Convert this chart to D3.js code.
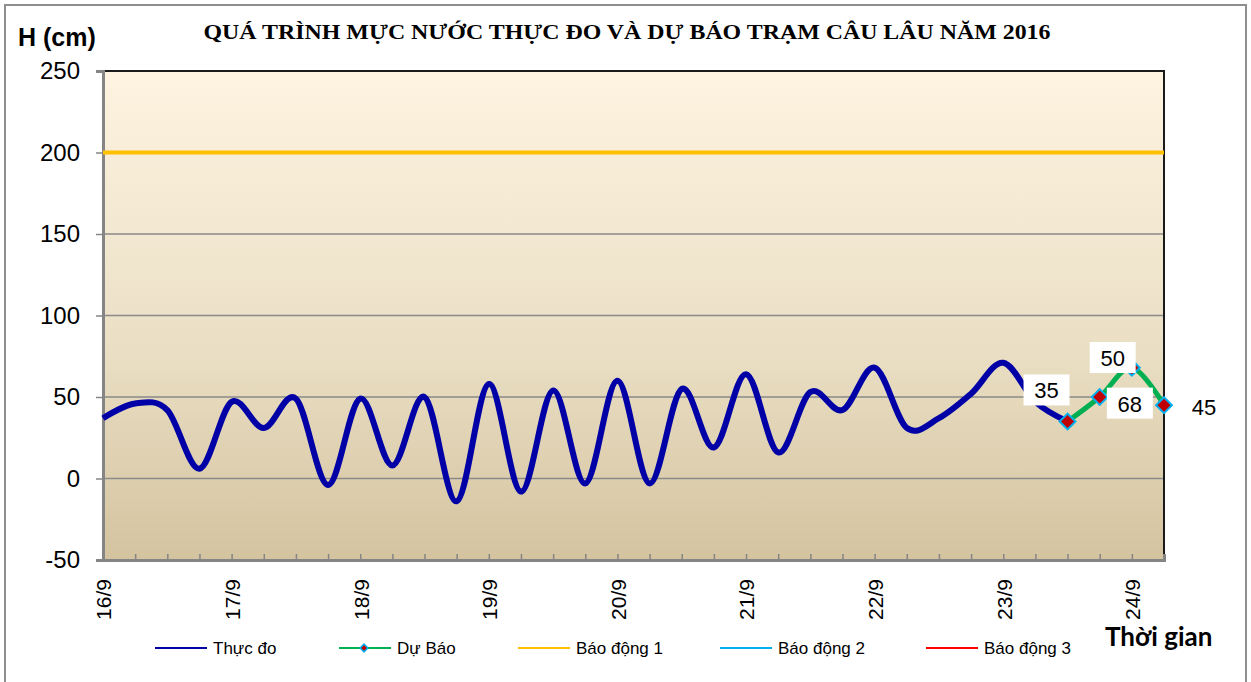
<!DOCTYPE html>
<html>
<head>
<meta charset="utf-8">
<script src="https://cdn.jsdelivr.net/npm/d3@7"></script>
<style>
  body { margin: 0; background: #fff; }
  svg { display: block; }
</style>
</head>
<body>
<div id="chart"></div>
<script>
// ---- data (hours counted from 16/9 00h) ----
const dayLabels = ["16/9", "17/9", "18/9", "19/9", "20/9", "21/9", "22/9", "23/9", "24/9"];
const observedHours = [0, 6, 12, 18, 24, 30, 36, 42, 48, 54, 60, 66, 72, 78, 84, 90,
  96, 102, 108, 114, 120, 126, 132, 138, 144, 150, 156, 162, 168, 174, 180];
const observedValues = [37, 46, 42, 6, 47, 31, 49, -4, 49, 8, 50, -14, 58, -8, 54, -3,
  60, -3, 55, 19, 64, 16, 53, 42, 68, 31, 37, 52, 71, 47, 35];
const forecastHours = [180, 186, 192, 198];
const forecastValues = [35, 50, 68, 45];
const alarm1 = 200;
const yTicks = [-50, 0, 50, 100, 150, 200, 250];
const legendNames = ["Thực đo", "Dự Báo", "Báo động 1", "Báo động 2", "Báo động 3"];

const width = 1251, height = 682;
const plot = { left: 103, right: 1164, top: 71, bottom: 560 };
const sans = "Arial, 'Liberation Sans', sans-serif";

const svg = d3.select("#chart").append("svg")
  .attr("width", width)
  .attr("height", height);

// gradient for plot area
const grad = svg.append("defs").append("linearGradient")
  .attr("id", "bg").attr("x1", 0).attr("y1", 0).attr("x2", 0).attr("y2", 1);
grad.append("stop").attr("offset", "0%").attr("stop-color", "#fef3e0");
grad.append("stop").attr("offset", "55%").attr("stop-color", "#ebe0c6");
grad.append("stop").attr("offset", "100%").attr("stop-color", "#d4c39f");

// outer frame
svg.append("rect")
  .attr("x", 5).attr("y", 5)
  .attr("width", 1241).attr("height", 700)
  .attr("fill", "none")
  .attr("stroke", "#8f8f8f")
  .attr("stroke-width", 2);

const x = d3.scaleLinear().domain([0, 198]).range([plot.left, plot.right]);
const y = d3.scaleLinear().domain([-50, 250]).range([plot.bottom, plot.top]);

svg.append("rect")
  .attr("x", plot.left).attr("y", plot.top)
  .attr("width", plot.right - plot.left)
  .attr("height", plot.bottom - plot.top)
  .attr("fill", "url(#bg)");

// gridlines
svg.append("g")
  .selectAll("line")
  .data(yTicks.filter(d => d > -50 && d < 250))
  .enter()
  .append("line")
  .attr("x1", plot.left).attr("x2", plot.right)
  .attr("y1", d => y(d)).attr("y2", d => y(d))
  .attr("stroke", "#8a8a8a")
  .attr("stroke-width", 1.5);

// plot border top / right
svg.append("path")
  .attr("d", `M${plot.left},${plot.top}H${plot.right}V${plot.bottom}`)
  .attr("fill", "none")
  .attr("stroke", "#1a1a1a")
  .attr("stroke-width", 2);

// y axis
const yAxis = svg.append("g")
  .attr("transform", `translate(${plot.left},0)`)
  .call(d3.axisLeft(y).tickValues(yTicks).tickSize(7).tickPadding(16).tickFormat(d => String(d)));
yAxis.select(".domain").attr("stroke", "#858585").attr("stroke-width", 3);
yAxis.selectAll(".tick line").attr("stroke", "#858585").attr("stroke-width", 1.5);
yAxis.selectAll("text")
  .style("font-family", sans)
  .style("font-size", "24px")
  .attr("fill", "#000");

// x axis: ticks every 6 hours, labels every day
const xAxis = svg.append("g")
  .attr("transform", `translate(0,${plot.bottom})`)
  .call(d3.axisBottom(x).tickValues(d3.range(0, 199, 6)).tickSize(-6).tickFormat(""));
xAxis.select(".domain").attr("stroke", "#858585").attr("stroke-width", 3);
xAxis.selectAll(".tick line").attr("stroke", "#858585").attr("stroke-width", 1.5);

svg.append("g")
  .selectAll("text")
  .data(dayLabels)
  .enter()
  .append("text")
  .attr("transform", (d, i) => `translate(${x(i * 24) + 1},579) rotate(-90)`)
  .attr("text-anchor", "end")
  .attr("dy", "0.35em")
  .style("font-family", sans)
  .style("font-size", "21px")
  .text(d => d);

// alarm level 1
svg.append("line")
  .attr("x1", x(0)).attr("x2", x(198))
  .attr("y1", y(alarm1)).attr("y2", y(alarm1))
  .attr("stroke", "#ffc000")
  .attr("stroke-width", 4);

// observed line
const observed = observedHours.map((h, i) => ({ h, v: observedValues[i] }));
const forecast = forecastHours.map((h, i) => ({ h, v: forecastValues[i] }));

const line = d3.line()
  .x(d => x(d.h))
  .y(d => y(d.v))
  .curve(d3.curveCardinal.tension(0));

svg.append("path")
  .datum(observed)
  .attr("d", line)
  .attr("fill", "none")
  .attr("stroke", "#0000a6")
  .attr("stroke-width", 6)
  .attr("stroke-linejoin", "round");

svg.append("path")
  .datum(forecast)
  .attr("d", line)
  .attr("fill", "none")
  .attr("stroke", "#00b050")
  .attr("stroke-width", 5);

svg.append("g")
  .selectAll("path")
  .data(forecast)
  .enter()
  .append("path")
  .attr("transform", d => `translate(${x(d.h)},${y(d.v)}) rotate(45)`)
  .attr("d", d3.symbol().type(d3.symbolSquare).size(125))
  .attr("fill", "#c00000")
  .attr("stroke", "#00b0f0")
  .attr("stroke-width", 2);

// forecast value labels
const labelOffsets = [[-21, -31], [13, -39], [-2, 36], [40, 2]];
const labels = svg.append("g")
  .selectAll("g")
  .data(forecast)
  .enter()
  .append("g")
  .attr("transform", (d, i) => `translate(${x(d.h) + labelOffsets[i][0]},${y(d.v) + labelOffsets[i][1]})`);
labels.filter((d, i) => i < 3)
  .append("rect")
  .attr("x", -23).attr("y", -16)
  .attr("width", 46).attr("height", 31)
  .attr("fill", "#fff");
labels.append("text")
  .attr("text-anchor", "middle")
  .attr("dy", "0.36em")
  .style("font-family", sans)
  .style("font-size", "22px")
  .text(d => d.v);

// titles
svg.append("text")
  .attr("x", 627).attr("y", 39)
  .attr("text-anchor", "middle")
  .attr("textLength", 847)
  .attr("lengthAdjust", "spacingAndGlyphs")
  .style("font-family", "'Liberation Serif', 'Times New Roman', serif")
  .style("font-weight", "bold")
  .style("font-size", "22px")
  .text("QUÁ TRÌNH MỰC NƯỚC THỰC ĐO VÀ DỰ BÁO TRẠM CÂU LÂU NĂM 2016");

svg.append("text")
  .attr("x", 18).attr("y", 46)
  .style("font-family", sans)
  .style("font-weight", "bold")
  .style("font-size", "25px")
  .text("H (cm)");

svg.append("text")
  .attr("x", 1105).attr("y", 646)
  .style("font-family", "Lato, 'Open Sans', sans-serif")
  .style("font-weight", "bold")
  .style("font-size", "26px")
  .text("Thời gian");

// legend
const legendX = [155, 339, 518, 720, 926];
const legendColors = ["#0000a6", "#00b050", "#ffc000", "#00b0f0", "#ff0000"];
const legend = svg.append("g")
  .selectAll("g")
  .data(legendNames)
  .enter()
  .append("g")
  .attr("transform", (d, i) => `translate(${legendX[i]},648)`);
legend.append("line")
  .attr("x1", 0).attr("x2", 52)
  .attr("stroke", (d, i) => legendColors[i])
  .attr("stroke-width", 2);
legend.filter((d, i) => i === 1)
  .append("path")
  .attr("transform", "translate(25,0) rotate(45)")
  .attr("d", d3.symbol().type(d3.symbolSquare).size(30))
  .attr("fill", "#c00000")
  .attr("stroke", "#00b0f0")
  .attr("stroke-width", 1.5);
legend.append("text")
  .attr("x", 58)
  .attr("dy", "0.35em")
  .style("font-family", sans)
  .style("font-size", "17px")
  .text(d => d);
</script>
</body>
</html>
